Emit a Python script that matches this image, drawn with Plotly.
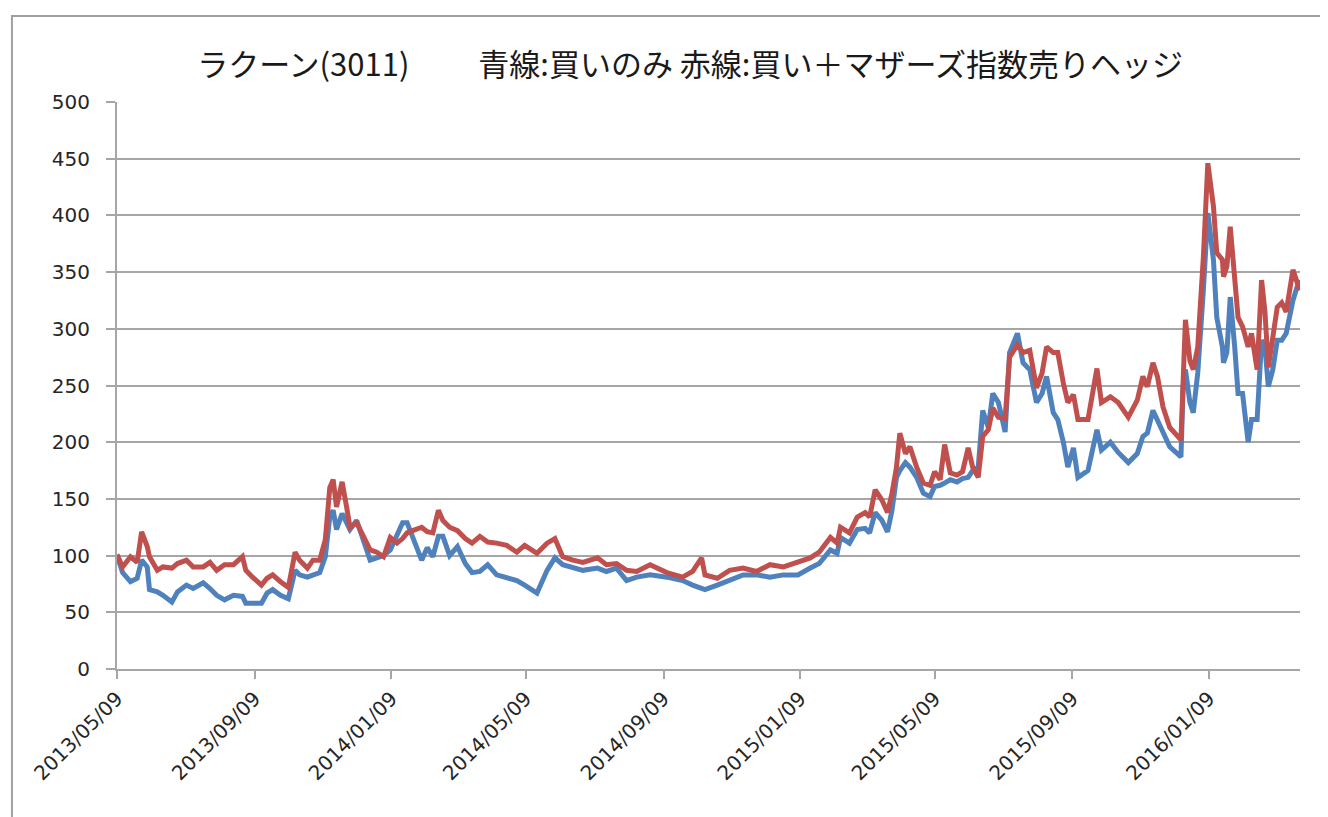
import datetime as dt
import plotly.graph_objects as go

# days since 2013/05/09
days = [0, 5, 12, 18, 22, 27, 29, 36, 41, 49, 54, 62, 68, 77, 83, 89, 96, 104, 112, 115,
        121, 129, 134, 139, 146, 153, 159, 163, 170, 175, 181, 186, 190, 193, 196, 201, 205, 208, 214, 220,
        226, 232, 238, 244, 250, 255, 259, 264, 272, 277, 282, 287, 291, 297, 304, 311, 317, 324, 331, 339,
        348, 357, 364, 375, 384, 391, 398, 407, 416, 429, 437, 446, 455, 464, 476, 491, 505, 514, 522, 525,
        536, 547, 559, 571, 583, 595, 608, 619, 627, 637, 643, 646, 654, 661, 668, 672, 677, 683, 688, 692,
        696, 699, 704, 708, 714, 720, 726, 730, 735, 739, 744, 750, 755, 760, 764, 769, 773, 778, 782, 787,
        793, 797, 804, 809, 815, 821, 826, 830, 836, 840, 845, 849, 854, 858, 867, 875, 879, 887, 894, 903,
        911, 916, 920, 925, 929, 934, 940, 950, 952, 954, 958, 961, 965, 970, 974, 979, 982, 987, 988, 991,
        994, 998, 1001, 1005, 1010, 1013, 1018, 1022, 1025, 1028, 1032, 1036, 1040, 1044, 1050, 1054, 1056]

# 赤線: 買い＋マザーズ指数売りヘッジ
hedge = [101, 90, 99, 94, 121, 108, 99, 87, 90, 89, 93, 96, 90, 90, 94, 87, 92, 92, 99, 87,
         81, 74, 80, 83, 77, 72, 103, 96, 89, 96, 96, 114, 160, 167, 143, 165, 143, 125, 129, 118,
         105, 103, 99, 116, 111, 115, 120, 122, 125, 121, 120, 140, 131, 125, 122, 115, 111, 117, 112, 111,
         109, 103, 109, 102, 111, 115, 99, 96, 94, 98, 92, 93, 87, 86, 92, 85, 81, 86, 98, 83,
         80, 87, 89, 86, 92, 90, 94, 98, 103, 116, 111, 125, 120, 134, 138, 134, 158, 149, 138, 155,
         178, 208, 190, 196, 178, 164, 162, 174, 167, 198, 173, 171, 174, 195, 178, 169, 205, 211, 230, 222,
         221, 275, 286, 279, 281, 248, 261, 284, 279, 279, 252, 235, 242, 220, 220, 265, 235, 240, 235, 222,
         237, 258, 249, 270, 258, 231, 213, 202, 255, 308, 272, 264, 284, 363, 446, 408, 367, 361, 346, 355,
         390, 346, 310, 302, 284, 296, 264, 343, 315, 266, 290, 319, 323, 315, 352, 340, 334]

# 青線: 買いのみ
buy_only = [100, 85, 77, 80, 96, 90, 70, 68, 65, 59, 68, 74, 71, 76, 71, 65, 61, 65, 64, 58,
            58, 58, 67, 70, 65, 62, 87, 83, 81, 83, 85, 99, 134, 140, 123, 137, 130, 123, 131, 114,
            96, 98, 100, 105, 118, 129, 129, 117, 96, 107, 99, 117, 117, 100, 108, 93, 85, 86, 92, 83,
            80, 78, 74, 67, 87, 98, 92, 90, 87, 89, 86, 89, 78, 81, 83, 81, 78, 74, 71, 70,
            74, 78, 83, 83, 81, 83, 83, 89, 93, 105, 102, 116, 111, 123, 124, 120, 138, 131, 121, 140,
            169, 175, 182, 178, 169, 155, 152, 161, 162, 164, 167, 165, 168, 169, 175, 178, 228, 213, 243, 235,
            209, 279, 296, 270, 264, 235, 243, 258, 226, 220, 200, 178, 195, 169, 175, 211, 193, 200, 191, 182,
            190, 205, 208, 228, 220, 208, 196, 187, 250, 264, 235, 226, 261, 334, 402, 361, 310, 284, 270, 279,
            328, 284, 243, 243, 200, 220, 220, 290, 284, 249, 264, 290, 290, 296, 325, 338, 343]

y_ticks = [0, 50, 100, 150, 200, 250, 300, 350, 400, 450, 500]
x_tick_labels = ["2013/05/09", "2013/09/09", "2014/01/09", "2014/05/09", "2014/09/09",
                 "2015/01/09", "2015/05/09", "2015/09/09", "2016/01/09"]
title_text = "ラクーン(3011)　　 青線:買いのみ 赤線:買い＋マザーズ指数売りヘッジ"

start = dt.datetime(2013, 5, 9)
dates = [start + dt.timedelta(days=d) for d in days]
tick_dates = [dt.datetime.strptime(s, "%Y/%m/%d") for s in x_tick_labels]

fig = go.Figure()
fig.add_trace(go.Scatter(x=dates, y=buy_only, mode="lines", name="買いのみ",
                         line=dict(color="#4F81BD", width=5)))
fig.add_trace(go.Scatter(x=dates, y=hedge, mode="lines", name="買い＋マザーズ指数売りヘッジ",
                         line=dict(color="#C0504D", width=5)))

grid = "#A6A6A6"
tickfont = dict(family="DejaVu Sans, sans-serif", size=20, color="#262626")
fig.update_layout(
    width=1320, height=809,
    margin=dict(l=109, r=28, t=94, b=148),
    paper_bgcolor="white", plot_bgcolor="white",
    showlegend=False,
    title=dict(text=title_text, x=0.5167, xref="container", xanchor="center",
               y=0.9295, yref="container", yanchor="middle",
               font=dict(family="Noto Sans CJK JP", size=31, color="#1a1a1a")),
    xaxis=dict(type="date", range=[start, start + dt.timedelta(days=1056.3)],
               tickvals=tick_dates, ticktext=x_tick_labels, tickangle=-45,
               ticks="outside", ticklen=8, tickcolor=grid, tickwidth=2,
               showline=True, linecolor=grid, linewidth=2, showgrid=False,
               tickfont=tickfont, zeroline=False, automargin=False),
    yaxis=dict(range=[0, 500], tickvals=y_ticks, ticks="outside", ticklen=9,
               tickcolor=grid, tickwidth=2, showline=True, linecolor=grid, linewidth=2,
               showgrid=True, gridcolor=grid, gridwidth=2, zeroline=False,
               tickfont=tickfont, ticklabelstandoff=12, automargin=False),
)
# outer chart frame (Excel chart area border)
fig.add_shape(type="rect", xref="paper", yref="paper",
              x0=-0.0888, x1=1.2, y0=-0.5, y1=1.1517,
              line=dict(color="#A0A0A0", width=2), fillcolor="rgba(0,0,0,0)", layer="below")

fig.write_html("out.html")
